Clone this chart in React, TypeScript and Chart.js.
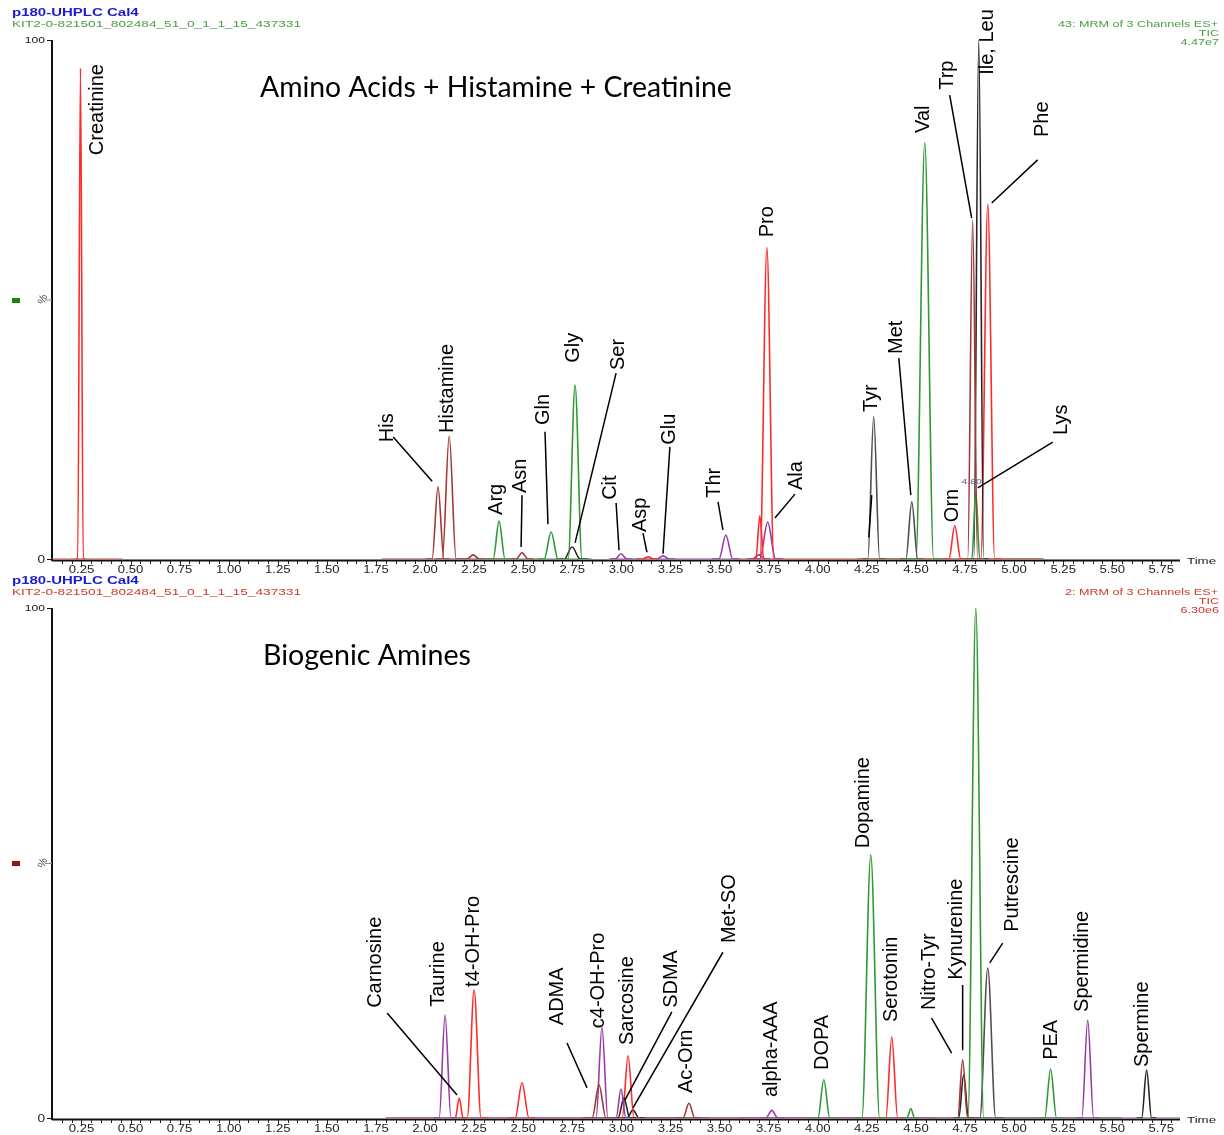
import React, { useEffect, useRef } from 'react';
import { Chart, registerables } from 'chart.js';
Chart.register(...registerables);

// ---------- Shared axis ----------
const TICK_LABELS = ['0.25', '0.50', '0.75', '1.00', '1.25', '1.50', '1.75', '2.00', '2.25', '2.50', '2.75', '3.00', '3.25', '3.50', '3.75', '4.00', '4.25', '4.50', '4.75', '5.00', '5.25', '5.50', '5.75'];
const X_MIN = 0.1;
const X_MAX = 5.845;

// ---------- Top panel: Amino Acids + Histamine + Creatinine ----------
const aaPeakNames = ['Creatinine', 'His', 'Histamine', '', 'Arg', 'Asn', 'Gln', 'Gly', 'Ser', 'Cit', 'Asp', 'Glu', 'Thr', '', 'Pro', 'Ala', '', 'Tyr', 'Met', 'Val', 'Orn', 'Trp', 'Lys', 'Ile, Leu', 'Phe'];
const aaPeakTimes = [0.245, 2.066, 2.123, 2.245, 2.377, 2.494, 2.642, 2.764, 2.749, 2.998, 3.136, 3.212, 3.532, 3.705, 3.741, 3.745, 3.700, 4.285, 4.479, 4.545, 4.698, 4.789, 4.805, 4.820, 4.866];
const aaPeakHeights = [94.6, 13.9, 23.7, 0.8, 7.3, 1.2, 5.2, 33.5, 2.3, 1.0, 0.4, 0.6, 4.6, 8.3, 60.0, 7.1, 0.8, 27.4, 11.0, 80.2, 6.4, 65.3, 13.1, 100.0, 68.4];
const aaPeakHalfWidths = [0.014, 0.03, 0.035, 0.03, 0.03, 0.03, 0.035, 0.035, 0.04, 0.03, 0.03, 0.03, 0.035, 0.02, 0.035, 0.04, 0.03, 0.03, 0.03, 0.045, 0.03, 0.025, 0.02, 0.025, 0.035];
const aaPeakChannels = ['red', 'brown', 'brown', 'brown', 'green', 'brown', 'green', 'green', 'black', 'purple', 'red', 'purple', 'purple', 'red', 'red', 'purple', 'purple', 'gray', 'gray', 'green', 'red', 'brown', 'green', 'black', 'red'];

const aaBaseStarts = [0.10, 1.78, 2.30, 2.95, 3.60, 4.20];
const aaBaseEnds = [0.46, 2.40, 2.85, 3.60, 5.15, 5.15];
const aaBaseChannels = ['red', 'brown', 'green', 'purple', 'red', 'green'];

const aaLabelTexts = ['Creatinine', 'His', 'Histamine', 'Arg', 'Asn', 'Gln', 'Gly', 'Ser', 'Cit', 'Asp', 'Glu', 'Thr', 'Pro', 'Ala', 'Tyr', 'Met', 'Val', 'Orn', 'Trp', 'Ile, Leu', 'Phe', 'Lys'];
const aaLabelTimes = [0.331, 1.807, 2.112, 2.362, 2.484, 2.601, 2.754, 2.983, 2.942, 3.095, 3.247, 3.476, 3.746, 3.894, 4.275, 4.403, 4.540, 4.688, 4.662, 4.866, 5.146, 5.242];
const aaLabelLevels = [77.8, 22.5, 24.3, 8.5, 12.7, 25.8, 37.8, 36.4, 11.4, 5.2, 22.0, 11.8, 62.0, 13.3, 28.3, 39.5, 82.1, 7.1, 90.4, 93.3, 81.3, 23.9];
const aaLeaders = [
  [1.838, 23.5, 2.036, 15.0], [2.494, 12.3, 2.489, 2.3], [2.611, 24.5, 2.626, 6.7], [2.973, 35.8, 2.764, 3.1],
  [2.973, 10.8, 2.988, 1.7], [3.110, 5.0, 3.130, 1.3], [3.247, 21.6, 3.212, 1.0], [3.492, 11.0, 3.517, 5.6],
  [3.884, 12.5, 3.782, 7.9], [4.275, 12.3, 4.260, 4.2], [4.413, 38.7, 4.474, 12.3], [4.672, 89.4, 4.784, 65.7],
  [5.120, 76.9, 4.886, 68.6], [5.197, 22.5, 4.815, 13.7],
];
const aaMarkTexts = ['4.80'];
const aaMarkTimes = [4.784];
const aaMarkLevels = [15.0];

// ---------- Bottom panel: Biogenic Amines ----------
const baPeakNames = ['Taurine', 'Carnosine', 't4-OH-Pro', '', 'ADMA', 'c4-OH-Pro', '', 'SDMA', 'Sarcosine', 'Met-SO', 'Ac-Orn', 'alpha-AAA', 'DOPA', 'Dopamine', 'Serotonin', '', 'Nitro-Tyr', 'Kynurenine', '', 'Putrescine', 'PEA', 'Spermidine', 'Spermine'];
const baPeakTimes = [2.102, 2.174, 2.250, 2.494, 2.886, 2.901, 2.998, 3.013, 3.034, 3.059, 3.344, 3.766, 4.031, 4.270, 4.377, 4.474, 4.738, 4.743, 4.805, 4.866, 5.186, 5.375, 5.675];
const baPeakHeights = [20.2, 3.9, 25.1, 6.9, 6.5, 17.8, 5.7, 3.9, 12.2, 1.6, 2.9, 1.5, 7.5, 51.6, 15.9, 1.8, 11.4, 8.4, 100.0, 29.4, 9.6, 19.2, 9.4];
const baPeakHalfWidths = [0.03, 0.02, 0.035, 0.035, 0.035, 0.03, 0.025, 0.03, 0.03, 0.03, 0.03, 0.03, 0.03, 0.045, 0.03, 0.02, 0.025, 0.025, 0.04, 0.04, 0.03, 0.03, 0.025];
const baPeakChannels = ['purple', 'red', 'red', 'red', 'brown', 'purple', 'purple', 'black', 'red', 'black', 'brown', 'purple', 'green', 'green', 'red', 'green', 'brown', 'black', 'green', 'gray', 'green', 'purple', 'black'];

const baBaseStarts = [1.80, 1.80, 2.80, 3.60, 4.00];
const baBaseEnds = [5.845, 4.60, 3.45, 4.00, 5.55];
const baBaseChannels = ['purple', 'red', 'black', 'purple', 'green'];

const baLabelTexts = ['Carnosine', 'Taurine', 't4-OH-Pro', 'ADMA', 'c4-OH-Pro', 'Sarcosine', 'SDMA', 'Met-SO', 'Ac-Orn', 'alpha-AAA', 'DOPA', 'Dopamine', 'Serotonin', 'Nitro-Tyr', 'Kynurenine', 'Putrescine', 'PEA', 'Spermidine', 'Spermine'];
const baLabelTimes = [1.746, 2.067, 2.245, 2.672, 2.881, 3.029, 3.257, 3.553, 3.334, 3.766, 4.026, 4.235, 4.377, 4.570, 4.708, 4.993, 5.191, 5.349, 5.654];
const baLabelLevels = [21.6, 21.8, 25.7, 18.2, 17.6, 14.3, 21.6, 34.3, 4.9, 4.1, 9.4, 52.9, 18.8, 21.2, 27.1, 36.5, 11.4, 20.8, 10.0];
const baLeaders = [
  [1.807, 20.6, 2.163, 4.5], [2.723, 14.7, 2.825, 5.9], [3.257, 20.8, 3.018, 3.5], [3.517, 32.5, 3.059, 2.0],
  [4.580, 19.6, 4.682, 12.7], [4.738, 26.1, 4.738, 13.3], [4.942, 34.3, 4.876, 30.4],
];

// ---------- Styles ----------
const COLORS: Record<string, string> = {
  red: '#ff2b2b',
  brown: '#a33838',
  green: '#2f9a35',
  black: '#262626',
  gray: '#4f4f4f',
  purple: '#9a3ca8',
};

const LABEL_FONT = '20px "Liberation Sans", Arial, sans-serif';
const SMALL_FONT = '"Liberation Sans", Arial, sans-serif';

function buildDatasets(times: number[], heights: number[], hws: number[], chans: string[], bs: number[], be: number[], bc: string[]) {
  const ds: any[] = [];
  for (let i = 0; i < times.length; i++) {
    const t = times[i], h = heights[i], w = hws[i];
    ds.push({
      data: [
        { x: t - 2 * w, y: 0 },
        { x: t - w, y: 0 },
        { x: t, y: h },
        { x: t + w, y: 0 },
        { x: t + 2 * w, y: 0 },
      ],
      borderColor: COLORS[chans[i]],
      borderWidth: 1.6,
      pointRadius: 0,
      fill: false,
      cubicInterpolationMode: 'monotone',
    });
  }
  for (let i = 0; i < bs.length; i++) {
    ds.push({
      data: [{ x: bs[i], y: 0 }, { x: be[i], y: 0 }],
      borderColor: COLORS[bc[i]],
      borderWidth: 1.2,
      pointRadius: 0,
      fill: false,
    });
  }
  return ds;
}

function stretchText(ctx: CanvasRenderingContext2D, text: string, x: number, y: number, font: string, color: string, align: 'left' | 'right' | 'center', sx: number) {
  ctx.save();
  ctx.font = font;
  ctx.fillStyle = color;
  ctx.textBaseline = 'alphabetic';
  ctx.textAlign = 'left';
  const w = ctx.measureText(text).width * sx;
  const x0 = align === 'left' ? x : align === 'right' ? x - w : x - w / 2;
  ctx.translate(x0, y);
  ctx.scale(sx, 1);
  ctx.fillText(text, 0, 0);
  ctx.restore();
}

type Spec = {
  height: number;
  padTop: number;
  padBottom: number;
  datasets: any[];
  headerColor: string;
  markerColor: string;
  channelText: string;
  scaleText: string;
  title: string;
  titleX: number;
  titleBaseline: number;
  titleWidth: number;
  labelTexts: string[];
  labelTimes: number[];
  labelLevels: number[];
  leaders: number[][];
  markTexts: string[];
  markTimes: number[];
  markLevels: number[];
};

const topSpec: Spec = {
  height: 575,
  padTop: 40,
  padBottom: 16,
  datasets: buildDatasets(aaPeakTimes, aaPeakHeights, aaPeakHalfWidths, aaPeakChannels, aaBaseStarts, aaBaseEnds, aaBaseChannels),
  headerColor: '#4a9e42',
  markerColor: '#0b8a0b',
  channelText: '43: MRM of 3 Channels ES+',
  scaleText: '4.47e7',
  title: 'Amino Acids + Histamine + Creatinine',
  titleX: 260,
  titleBaseline: 97,
  titleWidth: 472,
  labelTexts: aaLabelTexts,
  labelTimes: aaLabelTimes,
  labelLevels: aaLabelLevels,
  leaders: aaLeaders,
  markTexts: aaMarkTexts,
  markTimes: aaMarkTimes,
  markLevels: aaMarkLevels,
};

const bottomSpec: Spec = {
  height: 560,
  padTop: 33,
  padBottom: 17,
  datasets: buildDatasets(baPeakTimes, baPeakHeights, baPeakHalfWidths, baPeakChannels, baBaseStarts, baBaseEnds, baBaseChannels),
  headerColor: '#cc3a2e',
  markerColor: '#9a1212',
  channelText: '2: MRM of 3 Channels ES+',
  scaleText: '6.30e6',
  title: 'Biogenic Amines',
  titleX: 263,
  titleBaseline: 90,
  titleWidth: 208,
  labelTexts: baLabelTexts,
  labelTimes: baLabelTimes,
  labelLevels: baLabelLevels,
  leaders: baLeaders,
  markTexts: [],
  markTimes: [],
  markLevels: [],
};

function makeDecor(spec: Spec) {
  return {
    id: 'chromDecor',
    beforeDatasetsDraw(chart: any) {
      const { ctx, chartArea } = chart;
      const x = chart.scales.x;
      const y = chart.scales.y;
      const { left, right, bottom } = chartArea;
      const top100 = y.getPixelForValue(100);
      const mid = y.getPixelForValue(50);
      ctx.save();
      ctx.strokeStyle = '#111';
      ctx.lineWidth = 2;
      ctx.beginPath();
      ctx.moveTo(left, top100);
      ctx.lineTo(left, bottom + 2);
      ctx.stroke();
      ctx.beginPath();
      ctx.moveTo(left, bottom + 1.5);
      ctx.lineTo(right, bottom + 1.5);
      ctx.stroke();
      // y ticks
      ctx.lineWidth = 1;
      ctx.beginPath();
      ctx.moveTo(left - 5, top100 + 0.5);
      ctx.lineTo(left, top100 + 0.5);
      ctx.moveTo(left - 5, bottom + 0.5);
      ctx.lineTo(left, bottom + 0.5);
      ctx.stroke();
      ctx.strokeStyle = '#888';
      ctx.beginPath();
      ctx.moveTo(left - 7, mid + 0.5);
      ctx.lineTo(left, mid + 0.5);
      ctx.stroke();
      // x ticks (minor every 0.05, major every 0.25)
      ctx.strokeStyle = '#222';
      ctx.beginPath();
      for (let k = 3; k <= 116; k++) {
        const px = Math.round(x.getPixelForValue(k * 0.05)) + 0.5;
        const len = k % 5 === 0 ? 5 : 3;
        ctx.moveTo(px, bottom + 2);
        ctx.lineTo(px, bottom + 2 + len);
      }
      ctx.stroke();
      ctx.restore();
    },
    afterDraw(chart: any) {
      const { ctx, chartArea } = chart;
      const x = chart.scales.x;
      const y = chart.scales.y;
      const { left, top, bottom } = chartArea;
      ctx.save();
      // tick labels
      for (const lab of TICK_LABELS) {
        const px = x.getPixelForValue(parseFloat(lab));
        stretchText(ctx, lab, px, bottom + 14, `10.5px ${SMALL_FONT}`, '#222', 'center', 1.25);
      }
      stretchText(ctx, 'Time', 1187, bottom + 5, `9.5px ${SMALL_FONT}`, '#222', 'left', 1.4);
      // y labels
      stretchText(ctx, '100', left - 7, top + 3, `9px ${SMALL_FONT}`, '#222', 'right', 1.35);
      stretchText(ctx, '0', left - 7, bottom + 4, `10.5px ${SMALL_FONT}`, '#222', 'right', 1.3);
      const mid = y.getPixelForValue(50);
      ctx.save();
      ctx.translate(43, mid);
      ctx.rotate(-Math.PI / 2 + 0.3);
      ctx.font = `11px ${SMALL_FONT}`;
      ctx.fillStyle = '#556';
      ctx.textAlign = 'center';
      ctx.textBaseline = 'middle';
      ctx.fillText('%', 0, 0);
      ctx.restore();
      ctx.fillStyle = spec.markerColor;
      ctx.fillRect(12, Math.round(mid) - 2, 8, 5);
      // header
      stretchText(ctx, 'p180-UHPLC Cal4', 12, top - 24, `bold 10px ${SMALL_FONT}`, '#1c1cd0', 'left', 1.5);
      stretchText(ctx, 'KIT2-0-821501_802484_51_0_1_1_15_437331', 12, top - 13, `9px ${SMALL_FONT}`, spec.headerColor, 'left', 1.52);
      stretchText(ctx, spec.channelText, 1218, top - 13, `9px ${SMALL_FONT}`, spec.headerColor, 'right', 1.4);
      stretchText(ctx, 'TIC', 1219, top - 4, `9px ${SMALL_FONT}`, spec.headerColor, 'right', 1.4);
      stretchText(ctx, spec.scaleText, 1219, top + 5, `9px ${SMALL_FONT}`, spec.headerColor, 'right', 1.4);
      // title
      let size = 26;
      ctx.font = `${size}px Lato, "Open Sans", sans-serif`;
      const tw = ctx.measureText(spec.title).width;
      size = (size * spec.titleWidth) / tw;
      ctx.font = `${size}px Lato, "Open Sans", sans-serif`;
      ctx.fillStyle = '#000';
      ctx.textAlign = 'left';
      ctx.textBaseline = 'alphabetic';
      ctx.fillText(spec.title, spec.titleX, spec.titleBaseline);
      // leaders
      ctx.strokeStyle = '#000';
      ctx.lineWidth = 1.5;
      ctx.beginPath();
      for (const L of spec.leaders) {
        ctx.moveTo(x.getPixelForValue(L[0]), y.getPixelForValue(L[1]));
        ctx.lineTo(x.getPixelForValue(L[2]), y.getPixelForValue(L[3]));
      }
      ctx.stroke();
      // rotated compound labels
      ctx.font = LABEL_FONT;
      ctx.fillStyle = '#000';
      for (let i = 0; i < spec.labelTexts.length; i++) {
        ctx.save();
        ctx.translate(x.getPixelForValue(spec.labelTimes[i]), y.getPixelForValue(spec.labelLevels[i]));
        ctx.rotate(-Math.PI / 2);
        ctx.textAlign = 'left';
        ctx.textBaseline = 'middle';
        ctx.fillText(spec.labelTexts[i], 0, 0);
        ctx.restore();
      }
      // retention-time marks
      for (let i = 0; i < spec.markTexts.length; i++) {
        stretchText(ctx, spec.markTexts[i], x.getPixelForValue(spec.markTimes[i]), y.getPixelForValue(spec.markLevels[i]) + 3, `8px ${SMALL_FONT}`, '#5a5a90', 'center', 1.3);
      }
      ctx.restore();
    },
  };
}

function Panel({ spec }: { spec: Spec }) {
  const ref = useRef<HTMLCanvasElement>(null);
  useEffect(() => {
    const chart = new Chart(ref.current as HTMLCanvasElement, {
      type: 'line',
      data: { datasets: spec.datasets },
      options: {
        animation: false,
        responsive: false,
        devicePixelRatio: 1,
        events: [],
        layout: { padding: { left: 52, right: 1224 - 1180, top: spec.padTop, bottom: spec.padBottom } },
        scales: {
          x: { type: 'linear', min: X_MIN, max: X_MAX, display: false },
          y: { type: 'linear', min: 0, max: 100, display: false },
        },
        plugins: { legend: { display: false }, tooltip: { enabled: false } },
        elements: { point: { radius: 0 }, line: { tension: 0 } },
      } as any,
      plugins: [makeDecor(spec)],
    });
    return () => chart.destroy();
  }, [spec]);
  return <canvas ref={ref} width={1224} height={spec.height} style={{ display: 'block', width: 1224, height: spec.height }} />;
}

export default function App() {
  return (
    <div style={{ position: 'absolute', left: 0, top: 0, width: 1224, height: 1135, background: '#fff' }}>
      <Panel spec={topSpec} />
      <Panel spec={bottomSpec} />
    </div>
  );
}
